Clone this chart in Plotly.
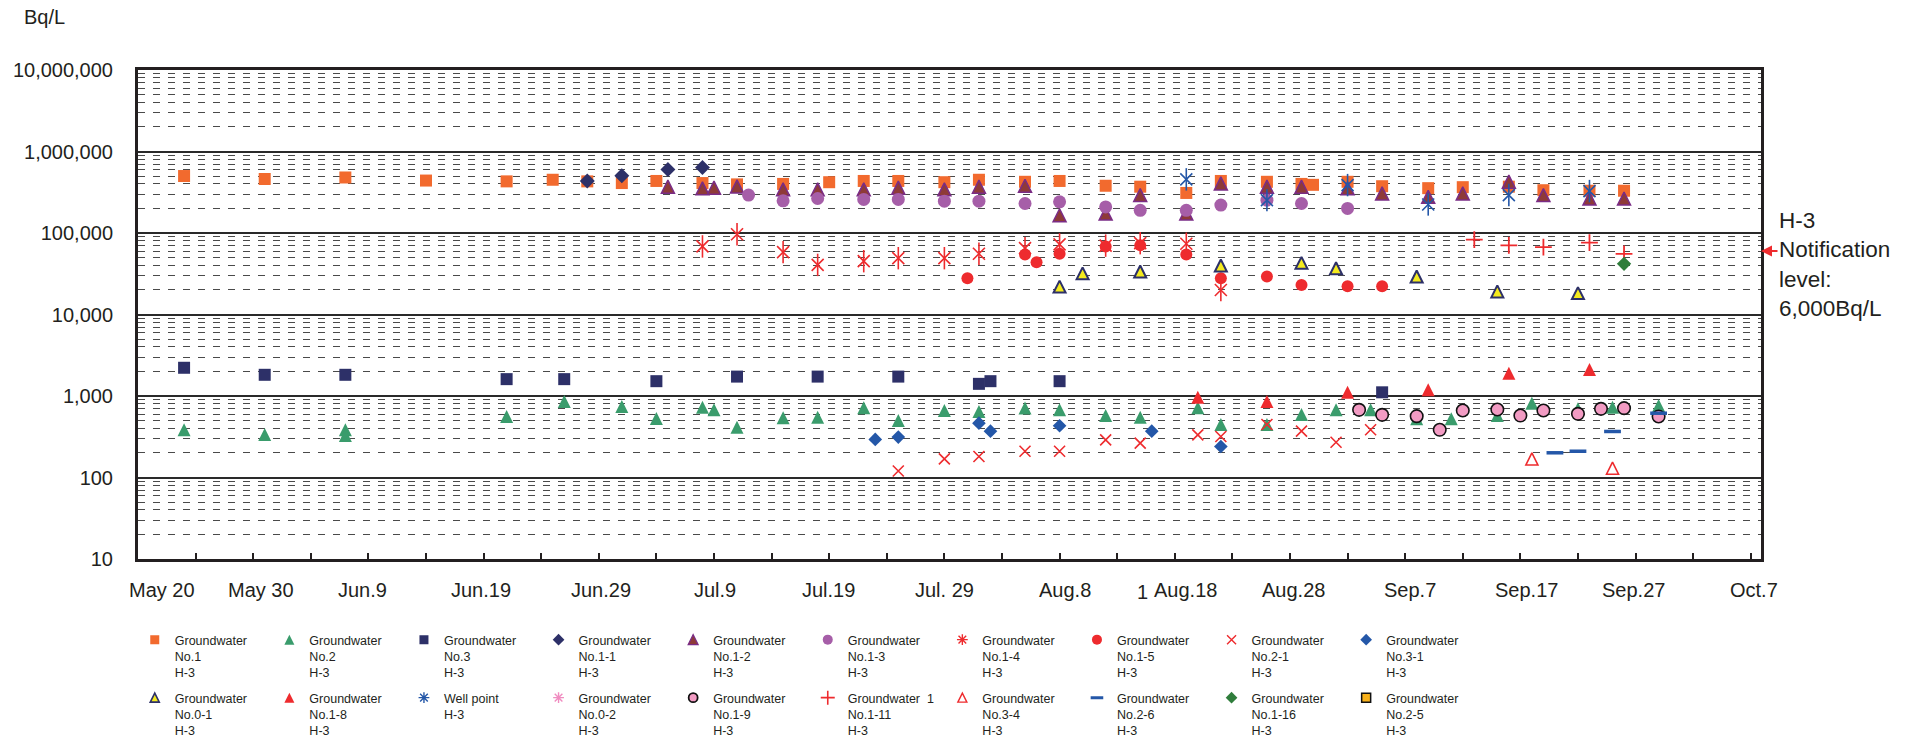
import math
import plotly.graph_objects as go

# ---------------- H-3 concentration in groundwater (Bq/L), 2013 ----------------
gw1_dates = ["05-24", "05-31", "06-07", "06-14", "06-21", "06-25", "06-28", "07-01", "07-04", "07-08",
             "07-11", "07-15", "07-19", "07-22", "07-25", "07-29", "08-01", "08-05", "08-08", "08-12",
             "08-15", "08-19", "08-22", "08-26", "08-29", "08-30", "09-02", "09-05", "09-09", "09-12",
             "09-16", "09-19", "09-23", "09-26"]
gw1_vals = [500000, 460000, 480000, 440000, 430000, 450000, 430000, 410000, 435000, 410000,
            395000, 400000, 420000, 435000, 435000, 420000, 450000, 425000, 435000, 380000,
            370000, 310000, 435000, 425000, 400000, 390000, 425000, 375000, 355000, 365000,
            370000, 335000, 330000, 330000]

gw2_dates = ["05-24", "05-31", "06-07", "06-07", "06-21", "06-26", "07-01", "07-04", "07-08", "07-09",
             "07-11", "07-15", "07-18", "07-22", "07-25", "07-29", "08-01", "08-05", "08-08", "08-12",
             "08-15", "08-20", "08-22", "08-26", "08-29", "09-01", "09-04", "09-08", "09-11", "09-15",
             "09-18", "09-22", "09-25", "09-29"]
gw2_vals = [385, 337, 385, 328, 560, 857, 743, 530, 730, 676,
            415, 540, 550, 716, 500, 664, 645, 710, 676, 576,
            550, 716, 447, 447, 593, 676, 676, 525, 525, 576,
            817, 696, 730, 764]

gw3_dates = ["05-24", "05-31", "06-07", "06-21", "06-26", "07-04", "07-11", "07-18", "07-25", "08-01",
             "08-02", "08-08", "09-05"]
gw3_vals = [2220, 1820, 1820, 1610, 1610, 1520, 1730, 1730, 1730, 1410, 1520, 1520, 1110]

gw1_1_dates = ["06-28", "07-01", "07-05", "07-08"]
gw1_1_vals = [435000, 505000, 600000, 635000]

gw1_2_dates = ["07-05", "07-08", "07-09", "07-11", "07-15", "07-18", "07-22", "07-25", "07-29", "08-01",
               "08-05", "08-08", "08-12", "08-15", "08-19", "08-22", "08-26", "08-29", "09-02", "09-05",
               "09-09", "09-12", "09-16", "09-19", "09-23", "09-26"]
gw1_2_vals = [370000, 353000, 360000, 373000, 343000, 343000, 343000, 360000, 343000, 370000,
              380000, 165000, 173000, 292000, 173000, 406000, 370000, 370000, 353000, 306000,
              278000, 306000, 426000, 292000, 265000, 265000]

gw1_3_dates = ["07-12", "07-15", "07-18", "07-22", "07-25", "07-29", "08-01", "08-05", "08-08", "08-12",
               "08-15", "08-19", "08-22", "08-26", "08-29", "09-02"]
gw1_3_vals = [292000, 248000, 265000, 258000, 258000, 246000, 246000, 230000, 241000, 209000,
              190000, 190000, 220000, 253000, 230000, 200000]

gw1_4_dates = ["07-08", "07-11", "07-15", "07-18", "07-22", "07-25", "07-29", "08-01", "08-05", "08-08",
               "08-12", "08-15", "08-19", "08-22"]
gw1_4_vals = [68400, 96400, 58200, 40600, 45100, 49100, 49100, 55600, 65300, 72400,
              70000, 75000, 73800, 20000]

gw1_5_dates = ["07-31", "08-05", "08-06", "08-08", "08-12", "08-15", "08-19", "08-22", "08-26", "08-29",
               "09-02", "09-05"]
gw1_5_vals = [27800, 54600, 43800, 55600, 68400, 70500, 54600, 27800, 29200, 23000, 22200, 22200]

gw2_1_dates = ["07-25", "07-29", "08-01", "08-05", "08-08", "08-12", "08-15", "08-20", "08-22", "08-26",
               "08-29", "09-01", "09-04"]
gw2_1_vals = [120, 169, 181, 210, 210, 290, 264, 334, 318, 447, 370, 271, 385]

gw3_1_dates = ["07-23", "07-25", "08-01", "08-02", "08-08", "08-16", "08-22"]
gw3_1_vals = [293, 313, 464, 370, 431, 370, 240]

gw0_1_dates = ["08-08", "08-10", "08-15", "08-22", "08-29", "09-01", "09-08", "09-15", "09-22"]
gw0_1_vals = [22000, 32000, 33700, 40000, 43000, 37000, 29200, 19200, 18300]

gw1_8_dates = ["08-20", "08-26", "09-02", "09-09", "09-16", "09-23"]
gw1_8_vals = [968, 857, 1110, 1190, 1905, 2115]

wp_dates = ["08-19", "08-26", "09-02", "09-09", "09-16", "09-23"]
wp_vals = [455000, 253000, 387000, 224000, 292000, 327000]

gw0_2_dates = []
gw0_2_vals = []

gw1_9_dates = ["09-03", "09-05", "09-08", "09-10", "09-12", "09-15", "09-17", "09-19", "09-22", "09-24",
               "09-26", "09-29"]
gw1_9_vals = [676, 587, 566, 385, 664, 683, 576, 664, 604, 696, 709, 560]

gw1_11_dates = ["09-13", "09-16", "09-19", "09-23", "09-26"]
gw1_11_vals = [82800, 70500, 67100, 76000, 55600]

gw3_4_dates = ["09-18", "09-25"]
gw3_4_vals = [169, 130]

gw2_6_dates = ["09-20", "09-22", "09-25", "09-29"]
gw2_6_vals = [201, 210, 367, 615]

gw1_16_dates = ["09-26"]
gw1_16_vals = [41800]

gw2_5_dates = []
gw2_5_vals = []

# axis labels
y_unit = "Bq/L"
x_labels = ["May 20", "May 30", "Jun.9", "Jun.19", "Jun.29", "Jul.9", "Jul.19", "Jul. 29", "Aug.8",
            "Aug.18", "Aug.28", "Sep.7", "Sep.17", "Sep.27", "Oct.7"]
x_label_dates = ["05-20", "05-30", "06-09", "06-19", "06-29", "07-09", "07-19", "07-29", "08-08",
                 "08-18", "08-28", "09-07", "09-17", "09-27", "10-07"]
notification_arrow_level = 60000

YEAR = "2013-"
FONT = "Liberation Sans, Arial, Helvetica, sans-serif"
TEXT = "#231F20"


def d(lst):
    return [YEAR + s for s in lst]


def gw_name(no):
    return "Groundwater<br>" + no + "<br>H-3"


def tri(size, open_=False, **kw):
    # upright triangle centred on the point (arrow glyph turned round and pulled back)
    return dict(symbol="arrow-down-open" if open_ else "arrow-down", angle=180,
                size=size, standoff=size / 2, **kw)


def tri_key(size, open_=False, **kw):
    # same triangle as drawn in the key (the key applies the standoff the other way)
    return dict(symbol="arrow-up-open" if open_ else "arrow-up",
                size=size, standoff=size / 2, **kw)


ORANGE = "#F26A2E"
GREEN = "#3A9C6C"
NAVY = "#2D3068"
PURPLE = "#A65EA8"
RED = "#EE2B2E"
BLUE = "#2457A8"
PINK = "#F08CC0"

# (name, dates, values, plot marker, key marker, legend, vertical stroke size for star glyph)
series = [
    (gw_name("No.1"), gw1_dates, gw1_vals,
     dict(symbol="square", size=12, color=ORANGE),
     dict(symbol="square", size=9, color=ORANGE), "legend", None),
    (gw_name("No.2"), gw2_dates, gw2_vals,
     tri(13, color=GREEN), tri_key(10, color=GREEN), "legend", None),
    (gw_name("No.3"), gw3_dates, gw3_vals,
     dict(symbol="square", size=12, color=NAVY),
     dict(symbol="square", size=9, color=NAVY), "legend", None),
    (gw_name("No.1-1"), gw1_1_dates, gw1_1_vals,
     dict(symbol="diamond", size=11.5, color=NAVY),
     dict(symbol="diamond", size=9, color=NAVY), "legend", None),
    (gw_name("No.1-2"), gw1_2_dates, gw1_2_vals,
     tri(13, color="#8E3A38", line=dict(color="#7A2C86", width=1.5)),
     tri_key(10, color="#8E3A38", line=dict(color="#7A2C86", width=1.2)), "legend", None),
    (gw_name("No.1-3"), gw1_3_dates, gw1_3_vals,
     dict(symbol="circle", size=13, color=PURPLE),
     dict(symbol="circle", size=10, color=PURPLE), "legend", None),
    (gw_name("No.1-4"), gw1_4_dates, gw1_4_vals,
     dict(symbol="x-thin-open", size=12, color=RED, line=dict(width=1.6)),
     dict(symbol="asterisk-open", size=9, color=RED, line=dict(width=1.4)), "legend", 16),
    (gw_name("No.1-5"), gw1_5_dates, gw1_5_vals,
     dict(symbol="circle", size=12, color=RED),
     dict(symbol="circle", size=10, color=RED), "legend", None),
    (gw_name("No.2-1"), gw2_1_dates, gw2_1_vals,
     dict(symbol="x-thin-open", size=11, color=RED, line=dict(width=1.6)),
     dict(symbol="x-thin-open", size=9, color=RED, line=dict(width=1.4)), "legend", None),
    (gw_name("No.3-1"), gw3_1_dates, gw3_1_vals,
     dict(symbol="diamond", size=10.5, color=BLUE),
     dict(symbol="diamond", size=9, color=BLUE), "legend", None),
    (gw_name("No.0-1"), gw0_1_dates, gw0_1_vals,
     tri(12, color="#F4EA1E", line=dict(color=NAVY, width=2)),
     tri_key(9, color="#F4EA1E", line=dict(color=NAVY, width=1.6)), "legend2", None),
    (gw_name("No.1-8"), gw1_8_dates, gw1_8_vals,
     tri(13, color=RED), tri_key(10, color=RED), "legend2", None),
    ("Well point<br>H-3", wp_dates, wp_vals,
     dict(symbol="x-thin-open", size=12, color=BLUE, line=dict(width=1.6)),
     dict(symbol="asterisk-open", size=9, color=BLUE, line=dict(width=1.4)), "legend2", 16),
    (gw_name("No.0-2"), gw0_2_dates, gw0_2_vals,
     dict(symbol="x-thin-open", size=12, color=PINK, line=dict(width=1.6)),
     dict(symbol="asterisk-open", size=9, color=PINK, line=dict(width=1.4)), "legend2", 16),
    (gw_name("No.1-9"), gw1_9_dates, gw1_9_vals,
     dict(symbol="circle", size=12.5, color="#F29BC3", line=dict(color="#111111", width=1.6)),
     dict(symbol="circle", size=9, color="#F29BC3", line=dict(color="#111111", width=1.8)),
     "legend2", None),
    ("Groundwater&nbsp;&nbsp;1<br>No.1-11<br>H-3", gw1_11_dates, gw1_11_vals,
     dict(symbol="cross-thin-open", size=12, color=RED, line=dict(width=1.8)),
     dict(symbol="cross-thin-open", size=10, color=RED, line=dict(width=1.6)), "legend2", None),
    (gw_name("No.3-4"), gw3_4_dates, gw3_4_vals,
     tri(12, open_=True, color=RED, line=dict(width=1.6)),
     tri_key(9, open_=True, color=RED, line=dict(width=1.4)), "legend2", None),
    (gw_name("No.2-6"), gw2_6_dates, gw2_6_vals,
     dict(symbol="line-ew-open", size=12, color=BLUE, line=dict(width=3.5)),
     dict(symbol="line-ew-open", size=9, color=BLUE, line=dict(width=3)), "legend2", None),
    (gw_name("No.1-16"), gw1_16_dates, gw1_16_vals,
     dict(symbol="diamond", size=11, color="#2F7D3B"),
     dict(symbol="diamond", size=9, color="#2F7D3B"), "legend2", None),
    (gw_name("No.2-5"), gw2_5_dates, gw2_5_vals,
     dict(symbol="square", size=10, color="#F9B21C", line=dict(color="#111111", width=1.5)),
     dict(symbol="square", size=9, color="#F9B21C", line=dict(color="#111111", width=1.5)),
     "legend2", None),
]

fig = go.Figure()
for name, dates, vals, marker, key_marker, leg, bar in series:
    xs = d(dates)
    fig.add_trace(go.Scatter(
        x=xs, y=vals, mode="markers", name=name, marker=marker, showlegend=False,
        legend=leg, legendgroup=name, hoverinfo="skip"))
    if bar is not None:
        # vertical stroke that turns the X into a six-armed star
        fig.add_trace(go.Scatter(
            x=xs, y=vals, mode="markers", showlegend=False, legendgroup=name,
            legend=leg, hoverinfo="skip",
            marker=dict(symbol="line-ns-open", size=bar, color=marker["color"],
                        line=dict(width=1.6))))
    # entry in the key (also shown for stations without samples)
    fig.add_trace(go.Scatter(
        x=[None], y=[None], mode="markers", name=name, marker=key_marker,
        legend=leg, legendgroup=name, hoverinfo="skip"))

annotations = []
label_shift = [24, 8, -6, -3, 2, 1, -1, 0, 5, 11, 4, 5, 6, -2, 3]
for txt, dt, sh in zip(x_labels, x_label_dates, label_shift):
    annotations.append(dict(
        x=YEAR + dt, y=0, xref="x", yref="paper", text=txt, showarrow=False,
        xanchor="center", yanchor="top", xshift=sh, yshift=-18,
        font=dict(family=FONT, size=20, color=TEXT)))
annotations.append(dict(
    x=YEAR + "08-15 05:00", y=0, xref="x", yref="paper", text="1", showarrow=False,
    xanchor="center", yanchor="top", yshift=-20,
    font=dict(family=FONT, size=20, color=TEXT)))
annotations.append(dict(
    x=-0.0715, y=1.108, xref="paper", yref="paper", text=y_unit, showarrow=False,
    xanchor="left", yanchor="middle", font=dict(family=FONT, size=20, color=TEXT)))
annotations.append(dict(
    x=1, y=0.6018, xref="paper", yref="paper", xshift=16, showarrow=False,
    text="H-3<br>Notification<br>level:<br>6,000Bq/L", align="left",
    xanchor="left", yanchor="middle", font=dict(family=FONT, size=22.5, color=TEXT)))
annotations.append(dict(
    x=1, y=math.log10(notification_arrow_level), xref="paper", yref="y", text="",
    showarrow=True, arrowhead=2, arrowsize=1.1, arrowwidth=2, arrowcolor=RED,
    ax=18, ay=0))

legend_common = dict(
    orientation="h", xanchor="left", yanchor="top", entrywidth=89.6, entrywidthmode="pixels",
    valign="top", bgcolor="rgba(0,0,0,0)", font=dict(family=FONT, size=12.5, color=TEXT),
    itemclick=False, itemdoubleclick=False)

fig.update_layout(
    width=1921, height=739, autosize=False,
    margin=dict(l=138, r=160, t=70, b=180, autoexpand=False),
    paper_bgcolor="white", plot_bgcolor="white",
    font=dict(family=FONT, color=TEXT),
    showlegend=True,
    legend=dict(x=-0.002, y=-0.135, **legend_common),
    legend2=dict(x=-0.002, y=-0.2536, **legend_common),
    annotations=annotations,
    xaxis=dict(
        type="date", range=[YEAR + "05-20", YEAR + "10-07 21:20"],
        tick0=YEAR + "05-20", dtick=5 * 86400000, ticks="inside", ticklen=6, tickwidth=1.5,
        tickcolor=TEXT, showticklabels=False, showgrid=False, zeroline=False,
        showline=True, linewidth=3, linecolor=TEXT, mirror=True),
    yaxis=dict(
        type="log", range=[1, 7], dtick=1, tickformat=",.0f", ticks="",
        ticklabelstandoff=18, tickfont=dict(family=FONT, size=20, color=TEXT),
        showgrid=True, gridcolor="#2a2a2a", gridwidth=2, zeroline=False,
        showline=True, linewidth=3, linecolor=TEXT, mirror=True,
        minor=dict(dtick="D1", showgrid=True, gridcolor="#4a4a4a", gridwidth=1,
                   griddash="7px,8px", ticks="")),
)

fig.write_html("out.html")
